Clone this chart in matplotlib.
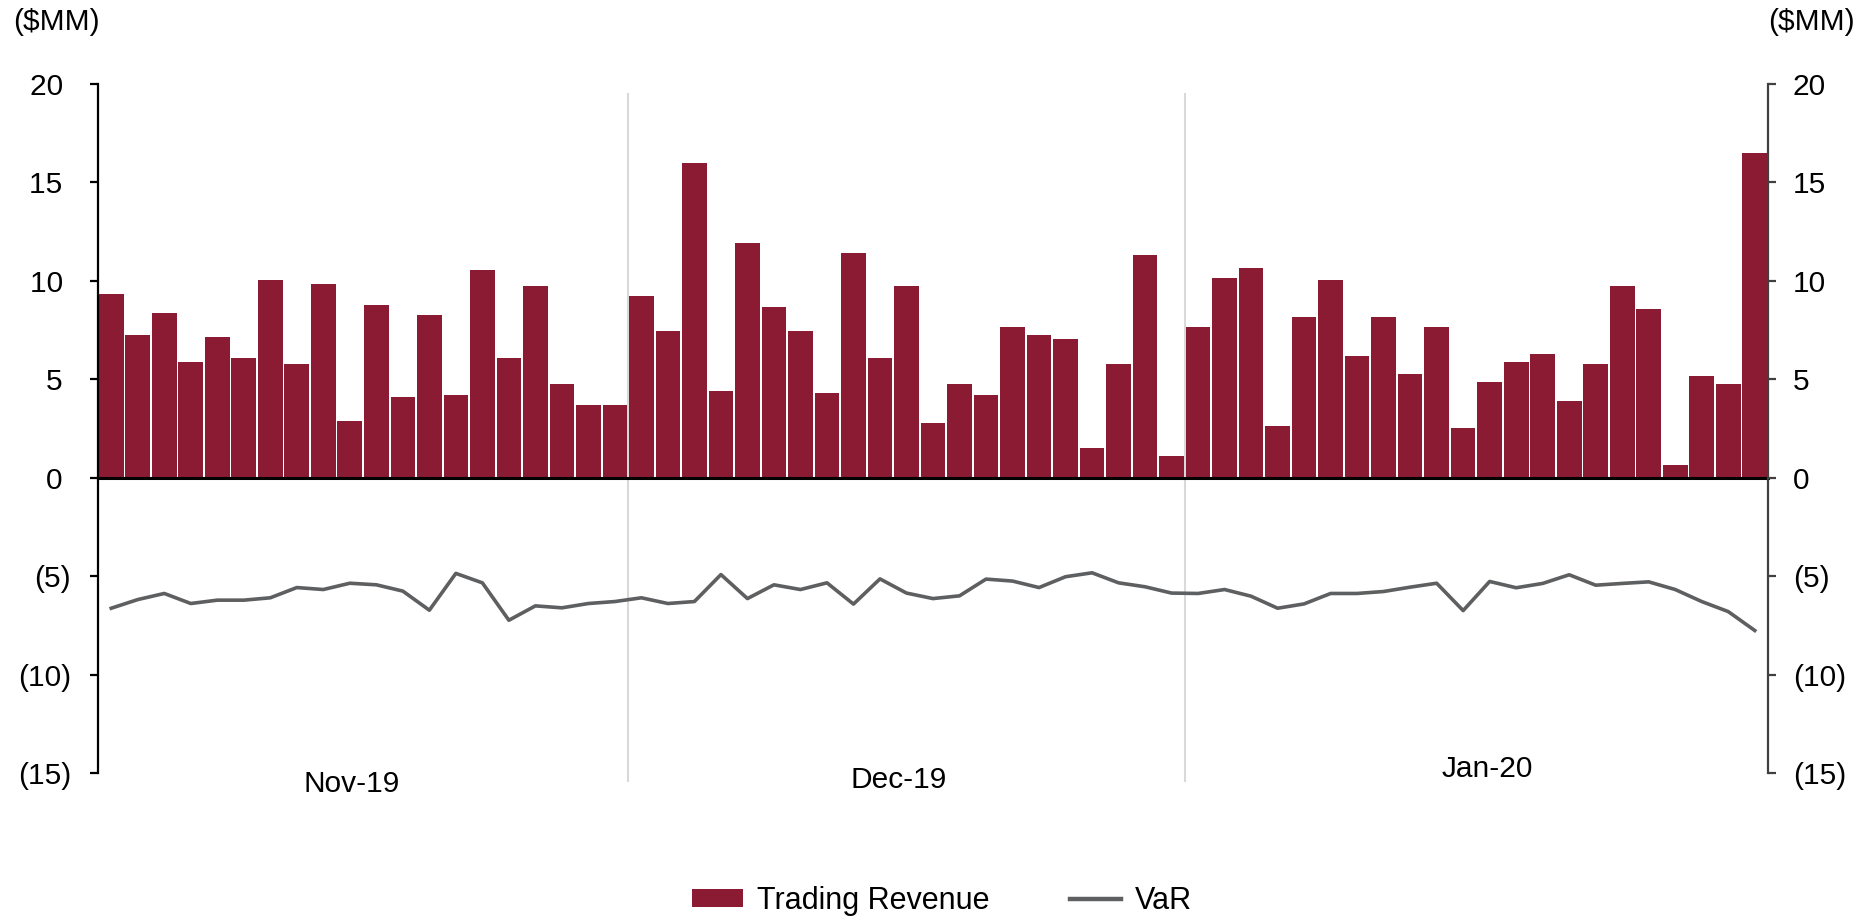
import numpy as np
import matplotlib
matplotlib.use('Agg')
import matplotlib.pyplot as plt
from matplotlib.patches import Patch
from matplotlib.lines import Line2D

plt.rcParams['font.family'] = ['Liberation Sans', 'DejaVu Sans']

# daily trading revenue ($MM) and VaR ($MM), one entry per trading day
months = ['Nov-19', 'Dec-19', 'Jan-20']
days_per_month = [20, 21, 22]

revenue = [
    # Nov-19
    9.31, 7.23, 8.37, 5.88, 7.13, 6.08, 10.04, 5.77, 9.82, 2.86,
    8.79, 4.10, 8.26, 4.22, 10.57, 6.08, 9.72, 4.74, 3.69, 3.69,
    # Dec-19
    9.21, 7.43, 15.97, 4.42, 11.92, 8.69, 7.43, 4.32, 11.40, 6.08,
    9.72, 2.76, 4.74, 4.22, 7.64, 7.23, 7.03, 1.51, 5.77, 11.30, 1.08,
    # Jan-20
    7.64, 10.14, 10.67, 2.64, 8.16, 10.04, 6.18, 8.16, 5.25, 7.64,
    2.54, 4.84, 5.88, 6.30, 3.89, 5.77, 9.72, 8.59, 0.66, 5.15, 4.74, 16.48,
]

var = [
    # Nov-19
    -6.63, -6.19, -5.88, -6.39, -6.22, -6.22, -6.10, -5.58, -5.68, -5.36,
    -5.44, -5.76, -6.73, -4.86, -5.34, -7.24, -6.51, -6.61, -6.39, -6.29,
    # Dec-19
    -6.10, -6.39, -6.29, -4.92, -6.14, -5.44, -5.68, -5.34, -6.42, -5.14,
    -5.86, -6.14, -6.00, -5.15, -5.25, -5.58, -5.03, -4.83, -5.34, -5.54, -5.86,
    # Jan-20
    -5.88, -5.68, -6.02, -6.63, -6.41, -5.88, -5.88, -5.78, -5.56, -5.36,
    -6.75, -5.27, -5.59, -5.37, -4.93, -5.46, -5.37, -5.29, -5.68, -6.29, -6.80, -7.76,
]

yticks = [20, 15, 10, 5, 0, -5, -10, -15]

BAR_COLOR = '#8B1A33'
VAR_COLOR = '#5E5F61'
FS = 21.5

# where the month labels sit (the source staggers them slightly)
label_x_shift = [-0.42, -0.3, 0.4]
label_y = [-15.56, -15.34, -14.8]


def fmt(v):
    # accounting style: negatives in parentheses
    return f'({abs(v)})' if v < 0 else f'{v}'


x = np.arange(len(revenue))

fig = plt.figure(figsize=(18.65, 9.22), dpi=100)
ax = fig.add_axes([98 / 1865, 1 - 773 / 922, (1768 - 98) / 1865, (773 - 84) / 922])

ax.bar(x, revenue, width=0.93, color=BAR_COLOR, zorder=2)
ax.plot(x, var, color=VAR_COLOR, lw=2.6, zorder=3)

ax.set_xlim(-0.5, len(revenue) - 0.5)
ax.set_ylim(-15, 20)

# month dividers and labels
bounds = np.cumsum(days_per_month)
for b in bounds[:-1]:
    ax.vlines(b - 0.5, -15.46, 19.55, color='#D9D9D9', lw=1.5, zorder=1, clip_on=False)
starts = np.concatenate([[0], bounds[:-1]])
for m, s, n, dx, ly in zip(months, starts, days_per_month, label_x_shift, label_y):
    ax.text(s + (n - 1) / 2 + dx, ly, m, ha='center', va='center', fontsize=FS)

# spines
ax.spines['top'].set_visible(False)
ax.spines['right'].set_visible(False)
ax.spines['bottom'].set_position(('data', 0))
ax.spines['bottom'].set_linewidth(2.2)
ax.spines['bottom'].set_zorder(4)
ax.spines['left'].set_linewidth(1.6)
ax.set_xticks([])

ax.set_yticks(yticks)
ax.set_yticklabels([fmt(v) + ('' if v < 0 else ' ') for v in yticks])
ax.tick_params(axis='y', direction='out', length=6, width=1.6, pad=13.5, labelsize=FS)

ax2 = ax.twinx()
ax2.set_ylim(-15, 20)
ax2.set_yticks(yticks)
ax2.set_yticklabels([fmt(v) for v in yticks])
for s in ['top', 'left', 'bottom']:
    ax2.spines[s].set_visible(False)
ax2.spines['right'].set_color('#404040')
ax2.spines['right'].set_linewidth(1.6)
ax2.tick_params(axis='y', direction='out', length=6, width=1.6, color='#404040',
                pad=12, labelsize=FS)

fig.text(13 / 1865, 1 - 22 / 922, '($MM)', ha='left', va='center', fontsize=FS)
fig.text(1855 / 1865, 1 - 22 / 922, '($MM)', ha='right', va='center', fontsize=FS)

handles = [Patch(facecolor=BAR_COLOR, edgecolor='none'),
           Line2D([0], [0], color=VAR_COLOR, lw=3.2)]
fig.legend(handles, ['Trading Revenue', 'VaR'], loc='center', ncol=2,
           bbox_to_anchor=(942 / 1865, 1 - 901 / 922), frameon=False, fontsize=22,
           handlelength=1.65, handleheight=0.5, handletextpad=0.46, columnspacing=2.65)

fig.savefig('out.png', dpi=100)
